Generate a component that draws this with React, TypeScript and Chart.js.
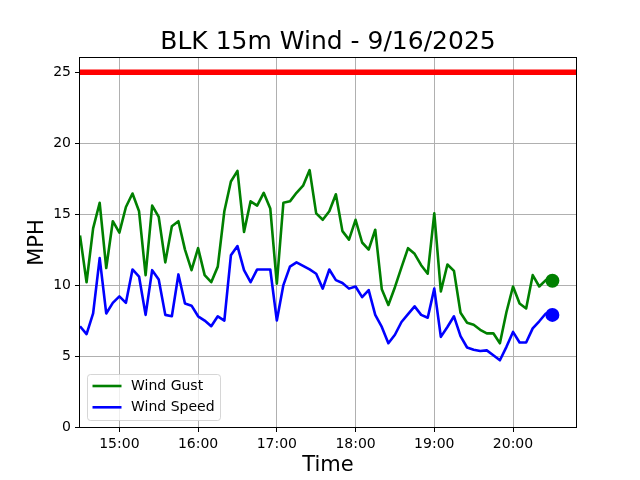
import React, { useEffect, useRef } from "react";
import { Chart, registerables } from "chart.js";

Chart.register(...registerables);

const times = [
  "14:30", "14:35", "14:40", "14:45", "14:50", "14:55",
  "15:00", "15:05", "15:10", "15:15", "15:20", "15:25", "15:30", "15:35", "15:40", "15:45", "15:50", "15:55",
  "16:00", "16:05", "16:10", "16:15", "16:20", "16:25", "16:30", "16:35", "16:40", "16:45", "16:50", "16:55",
  "17:00", "17:05", "17:10", "17:15", "17:20", "17:25", "17:30", "17:35", "17:40", "17:45", "17:50", "17:55",
  "18:00", "18:05", "18:10", "18:15", "18:20", "18:25", "18:30", "18:35", "18:40", "18:45", "18:50", "18:55",
  "19:00", "19:05", "19:10", "19:15", "19:20", "19:25", "19:30", "19:35", "19:40", "19:45", "19:50", "19:55",
  "20:00", "20:05", "20:10", "20:15", "20:20", "20:25", "20:30",
];

const windGust = [
  13.5, 10.2, 14.0, 15.8, 11.2, 14.5,
  13.7, 15.5, 16.45, 15.2, 10.7, 15.6, 14.8, 11.6, 14.15, 14.5, 12.5, 11.05,
  12.6, 10.7, 10.2, 11.3, 15.2, 17.3, 18.05, 13.75, 15.9, 15.6, 16.5, 15.4,
  10.1, 15.8, 15.9, 16.5, 17.0, 18.1, 15.05, 14.6, 15.2, 16.4, 13.8, 13.2,
  14.6, 13.0, 12.5, 13.9, 9.7, 8.6, 9.85, 11.25, 12.6, 12.2, 11.4, 10.8,
  15.05, 9.55, 11.45, 11.0, 8.05, 7.35, 7.2, 6.85, 6.6, 6.6, 5.9, 8.1,
  9.9, 8.7, 8.35, 10.7, 9.9, 10.35, 10.3,
];

const windSpeed = [
  7.1, 6.55, 8.0, 11.9, 8.0, 8.75,
  9.2, 8.75, 11.1, 10.6, 7.9, 11.05, 10.4, 7.9, 7.8, 10.75, 8.7, 8.55,
  7.8, 7.5, 7.1, 7.8, 7.5, 12.1, 12.75, 11.05, 10.2, 11.1, 11.1, 11.1,
  7.5, 10.0, 11.3, 11.6, 11.35, 11.1, 10.8, 9.75, 11.1, 10.35, 10.15, 9.75,
  9.9, 9.15, 9.65, 7.9, 7.05, 5.9, 6.5, 7.4, 7.95, 8.5, 7.9, 7.7,
  9.75, 6.35, 7.05, 7.8, 6.4, 5.6, 5.45, 5.35, 5.4, 5.05, 4.7, 5.65,
  6.7, 5.95, 5.95, 6.95, 7.45, 8.0, 7.9,
];

const thresholdValue = 25;
const xRange = ["14:30", "20:48"];
const xTickLabels = ["15:00", "16:00", "17:00", "18:00", "19:00", "20:00"];
const yTickValues = [0, 5, 10, 15, 20, 25];
const yRange = [0, 26];

const toMin = (t: string) => {
  const [h, m] = t.split(":").map(Number);
  return h * 60 + m;
};
const fmt = (v: number) => {
  const h = Math.floor(v / 60);
  const m = Math.round(v % 60);
  return `${h}:${m < 10 ? "0" + m : m}`;
};

const FONT = "DejaVu Sans";

export default function App() {
  const ref = useRef<HTMLCanvasElement | null>(null);

  useEffect(() => {
    if (!ref.current) return;
    Chart.defaults.font.family = FONT;
    const last = times.length - 1;

    const framePlugin = {
      id: "frame",
      afterDatasetsDraw(chart: any) {
        const { ctx, chartArea: a } = chart;
        ctx.save();
        ctx.strokeStyle = "#000";
        ctx.lineWidth = 1;
        ctx.strokeRect(Math.round(a.left) - 0.5, Math.round(a.top) - 0.5, Math.round(a.right - a.left) + 1, Math.round(a.bottom - a.top) + 1);
        ctx.restore();
      },
      afterDraw(chart: any) {
        const { ctx, chartArea: a } = chart;
        const items = chart.data.datasets.filter((d: any) => d.label);
        const x0 = a.left + 7.5;
        const y0 = a.bottom - 52.5;
        const w = 133;
        const h = 46;
        ctx.save();
        ctx.beginPath();
        if ((ctx as any).roundRect) (ctx as any).roundRect(x0, y0, w, h, 3);
        else ctx.rect(x0, y0, w, h);
        ctx.fillStyle = "rgba(255,255,255,0.8)";
        ctx.fill();
        ctx.strokeStyle = "rgba(204,204,204,0.8)";
        ctx.lineWidth = 1;
        ctx.stroke();
        items.forEach((d: any, i: number) => {
          const y = y0 + 11.5 + i * 21.3;
          ctx.beginPath();
          ctx.strokeStyle = d.borderColor;
          ctx.lineWidth = 2.6;
          ctx.moveTo(x0 + 5, y);
          ctx.lineTo(x0 + 34, y);
          ctx.stroke();
          ctx.fillStyle = "#000";
          ctx.font = `14px "${FONT}"`;
          ctx.textBaseline = "middle";
          ctx.textAlign = "left";
          ctx.fillText(d.label, x0 + 43.5, y);
        });
        ctx.restore();
      },
    };

    const chart = new Chart(ref.current, {
      type: "line",
      data: {
        datasets: [
          {
            label: "",
            data: xRange.map((t) => ({ x: toMin(t), y: thresholdValue })),
            borderColor: "#ff0000",
            backgroundColor: "#ff0000",
            borderWidth: 5.5,
            pointRadius: 0,
          },
          {
            label: "Wind Gust",
            data: times.map((t, i) => ({ x: toMin(t), y: windGust[i] })),
            borderColor: "#008000",
            backgroundColor: "#008000",
            borderWidth: 2.6,
            borderJoinStyle: "round",
            pointRadius: (c: any) => (c.dataIndex === last ? 7 : 0),
            pointBorderWidth: 0,
            pointBackgroundColor: "#008000",
          },
          {
            label: "Wind Speed",
            data: times.map((t, i) => ({ x: toMin(t), y: windSpeed[i] })),
            borderColor: "#0000ff",
            backgroundColor: "#0000ff",
            borderWidth: 2.6,
            borderJoinStyle: "round",
            pointRadius: (c: any) => (c.dataIndex === last ? 7 : 0),
            pointBorderWidth: 0,
            pointBackgroundColor: "#0000ff",
          },
        ],
      },
      options: {
        responsive: false,
        animation: false,
        events: [],
        layout: { padding: { left: 0, right: 64, top: 0, bottom: 0 } },
        plugins: {
          legend: { display: false },
          tooltip: { enabled: false },
          title: {
            display: true,
            text: "BLK 15m Wind - 9/16/2025",
            fullSize: false,
            color: "#000",
            font: { size: 25, weight: "normal", family: FONT },
            padding: { top: 27, bottom: 1 },
          },
        },
        scales: {
          x: {
            type: "linear",
            min: toMin(xRange[0]),
            max: toMin(xRange[1]),
            afterBuildTicks: (s: any) => {
              s.ticks = xTickLabels.map((t) => ({ value: toMin(t) }));
            },
            afterFit: (s: any) => {
              s.height = 53;
            },
            ticks: {
              color: "#000",
              font: { size: 14, family: FONT },
              padding: 3.5,
              maxRotation: 0,
              autoSkip: false,
              callback: (v: any) => fmt(Number(v)),
            },
            grid: { color: "#b0b0b0", lineWidth: 1, tickColor: "#000", tickLength: 5 },
            border: { display: false },
            title: {
              display: true,
              text: "Time",
              color: "#000",
              font: { size: 21, family: FONT },
              padding: { top: 0, bottom: 2 },
            },
          },
          y: {
            type: "linear",
            min: yRange[0],
            max: yRange[1],
            afterBuildTicks: (s: any) => {
              s.ticks = yTickValues.map((v) => ({ value: v }));
            },
            afterFit: (s: any) => {
              s.width = 80;
            },
            ticks: {
              color: "#000",
              font: { size: 14, family: FONT },
              padding: 4,
              autoSkip: false,
            },
            grid: { color: "#b0b0b0", lineWidth: 1, tickColor: "#000", tickLength: 5 },
            border: { display: false },
            title: {
              display: true,
              text: "MPH",
              color: "#000",
              font: { size: 21, family: FONT },
              padding: { top: 25, bottom: 0 },
            },
          },
        },
      },
      plugins: [framePlugin],
    } as any);

    return () => chart.destroy();
  }, []);

  return (
    <div style={{ position: "absolute", left: 0, top: 0, width: 640, height: 480 }}>
      <canvas ref={ref} width={640} height={480} style={{ width: 640, height: 480 }} />
    </div>
  );
}
